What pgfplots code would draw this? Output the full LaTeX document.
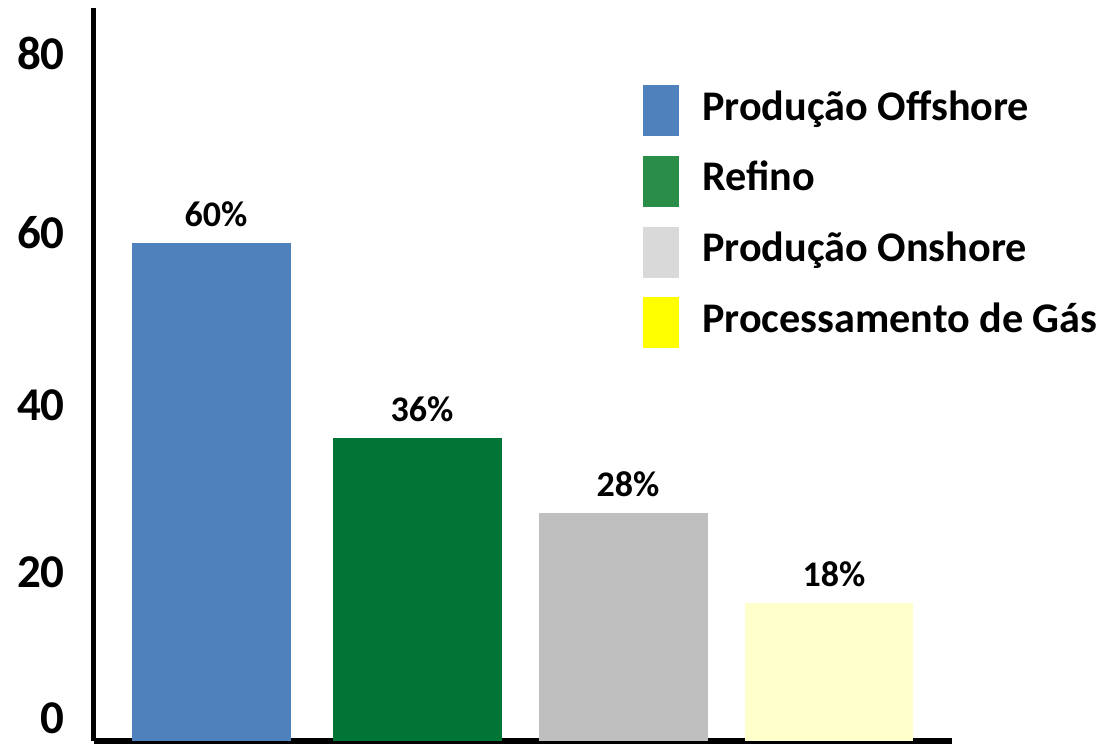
\documentclass[border=0pt]{standalone}
\usepackage{pgfplots}
\pgfplotsset{compat=1.18}
\usepackage{fontspec}
\setmainfont{Carlito}
\definecolor{barblue}{HTML}{4F81BD}
\definecolor{bargreen}{HTML}{007535}
\definecolor{bargray}{HTML}{BFBFBF}
\definecolor{baryellow}{HTML}{FFFFCC}
\definecolor{legblue}{HTML}{4F81BD}
\definecolor{leggreen}{HTML}{2B8E48}
\definecolor{leggray}{HTML}{D9D9D9}
\definecolor{legyellow}{HTML}{FFFF00}
\begin{document}
\begin{tikzpicture}
\useasboundingbox (-94bp,-3bp) rectangle (1010bp,741bp);
\begin{axis}[
  anchor=south west, at={(0,0)},
  scale only axis, width=858bp, height=733bp,
  xmin=-0.568, xmax=3.597, ymin=0, ymax=87.3,
  axis x line*=bottom, axis y line*=left,
  axis line style={line width=5bp, -},
  every outer x axis line/.append style={line width=5bp},
  every outer y axis line/.append style={line width=5bp},
  xtick=\empty,
  ytick={2.7,20.1,40,60.6,81.9}, yticklabels={0,20,40,60,80},
  major tick length=0pt,
  yticklabel style={font=\bfseries\fontsize{47bp}{50bp}\selectfont, inner sep=0pt, anchor=east, xshift=-29bp},
  clip=false,
  every node near coord/.append style={font=\bfseries\fontsize{36bp}{40bp}\selectfont, inner sep=0pt, yshift=16bp, xshift=5bp, text=black},
  legend cell align=left,
  legend style={draw=none, fill=none, at={(0.6399,0.8950)}, anchor=north west,
    inner sep=0pt, row sep=19.7bp, column sep=23bp,
    font=\bfseries\fontsize{42.2bp}{46bp}\selectfont,
    nodes={inner sep=0pt, text height=30bp, text depth=11.2bp},
    cells={anchor=west}},
]
\addplot[ybar, bar width=159bp, bar shift=0pt, fill=barblue, draw=none,
  nodes near coords={60\%},
  legend image code/.code={\fill[legblue] (0bp,-25.5bp) rectangle (36bp,25.5bp);}]
  coordinates {(0,59.3)};
\addlegendentry{Produção Offshore}
\addplot[ybar, bar width=169bp, bar shift=0pt, fill=bargreen, draw=none,
  nodes near coords={36\%},
  legend image code/.code={\fill[leggreen] (0bp,-25.5bp) rectangle (36bp,25.5bp);}]
  coordinates {(1,36.1)};
\addlegendentry{Refino}
\addplot[ybar, bar width=169bp, bar shift=0pt, fill=bargray, draw=none,
  nodes near coords={28\%},
  legend image code/.code={\fill[leggray] (0bp,-25.5bp) rectangle (36bp,25.5bp);}]
  coordinates {(2,27.1)};
\addlegendentry{Produção Onshore}
\addplot[ybar, bar width=168bp, bar shift=0pt, fill=baryellow, draw=none,
  nodes near coords={18\%},
  legend image code/.code={\fill[legyellow] (0bp,-25.5bp) rectangle (36bp,25.5bp);}]
  coordinates {(3,16.4)};
\addlegendentry{Processamento de Gás}
\end{axis}
\end{tikzpicture}
\end{document}
